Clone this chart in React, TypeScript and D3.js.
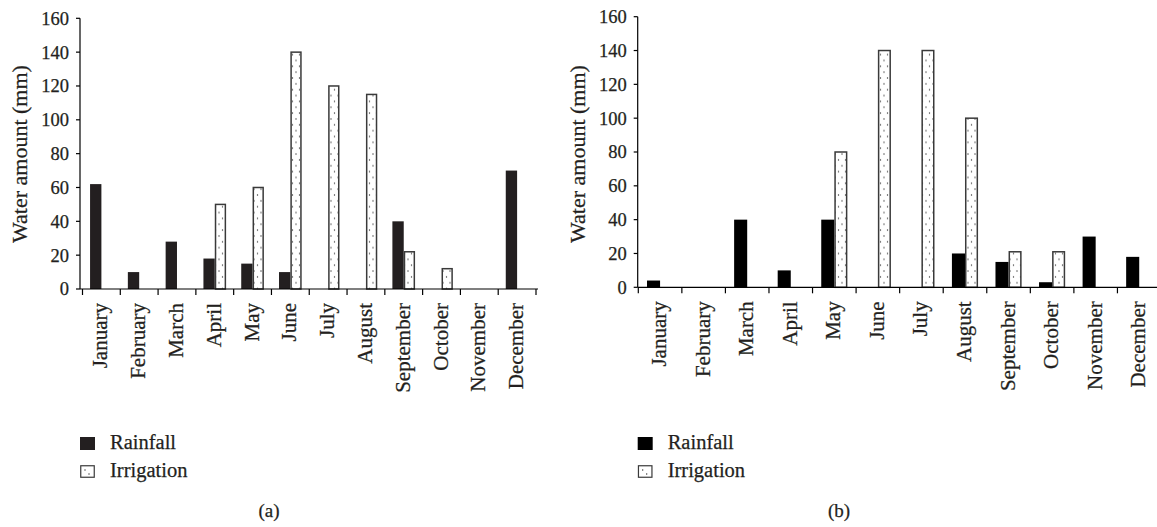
import React from "react";
import * as d3 from "d3";

const months = ["January","February","March","April","May","June","July","August","September","October","November","December"];
const rainfallA = [62, 10, 28, 18, 15, 10, 0, 0, 40, 0, 0, 70];
const irrigationA = [0, 0, 0, 50, 60, 140, 120, 115, 22, 12, 0, 0];
const rainfallB = [4, 0, 40, 10, 40, 0, 0, 20, 15, 3, 30, 18];
const irrigationB = [0, 0, 0, 0, 80, 140, 140, 100, 21, 21, 0, 0];
const yTicks = [0, 20, 40, 60, 80, 100, 120, 140, 160];
const yTitle = "Water amount (mm)";
const legendLabels = ["Rainfall", "Irrigation"];

const FONT = "'Liberation Serif', 'Times New Roman', serif";
const TEXT_COLOR = "#231f20";

type PanelProps = {
  id: string;
  axisX: number;
  x0: number;
  x1: number;
  yTop: number;
  yBottom: number;
  rain: number[];
  irr: number[];
  rainColor: string;
  caption: string;
  captionX: number;
};

const textStyle = { fontFamily: FONT, fill: TEXT_COLOR, stroke: TEXT_COLOR, strokeWidth: 0.25 } as const;

function Panel(p: PanelProps) {
  const x = d3.scaleBand<string>().domain(months).range([p.x0, p.x1]).padding(0);
  const y = d3.scaleLinear().domain([0, 160]).range([p.yBottom, p.yTop]);
  const step = x.step();
  const off = step * 0.2;
  const bw = step * 0.3;
  const boundaries = months.map((m) => x(m)!).concat([p.x1]);
  const titleY = 154;
  return (
    <g>
      <defs>
        <pattern id={`dots-${p.id}`} width={7} height={11.7} patternUnits="userSpaceOnUse">
          <rect width={7} height={11.7} fill="#fff" />
          <circle cx={2} cy={2} r={0.7} fill="#333" />
          <circle cx={5.5} cy={7.8} r={0.7} fill="#333" />
        </pattern>
      </defs>
      {months.map((m, i) =>
        p.rain[i] > 0 ? (
          <rect key={"r" + m} x={x(m)! + off} y={y(p.rain[i])} width={bw} height={y(0) - y(p.rain[i])} fill={p.rainColor} />
        ) : null
      )}
      {months.map((m, i) =>
        p.irr[i] > 0 ? (
          <rect key={"i" + m} x={x(m)! + off + bw + 0.75} y={y(p.irr[i])} width={bw - 1.5} height={y(0) - y(p.irr[i])}
            fill={`url(#dots-${p.id})`} stroke="#3a3a3a" strokeWidth={1.5} />
        ) : null
      )}
      <line x1={p.axisX} x2={p.axisX} y1={p.yTop} y2={p.yBottom} stroke="#000" strokeWidth={1.2} />
      {yTicks.map((t) => (
        <g key={"yt" + t}>
          <line x1={p.axisX - 4} x2={p.axisX} y1={y(t)} y2={y(t)} stroke="#000" strokeWidth={1.2} />
          <text x={p.axisX - 11} y={y(t)} dy="0.35em" textAnchor="end" fontSize={18.5} style={textStyle}>{t}</text>
        </g>
      ))}
      <line x1={p.axisX} x2={p.x1 + 2} y1={p.yBottom} y2={p.yBottom} stroke="#000" strokeWidth={1.2} />
      {boundaries.map((b, i) => (
        <line key={"xt" + i} x1={b} x2={b} y1={p.yBottom} y2={p.yBottom + 6} stroke="#000" strokeWidth={1.2} />
      ))}
      {months.map((m) => {
        const cx = x(m)! + step / 2 + 6;
        const cy = p.yBottom + 14;
        return (
          <text key={"xl" + m} transform={`translate(${cx},${cy}) rotate(-90)`} textAnchor="end" fontSize={21} style={textStyle}>{m}</text>
        );
      })}
      <text transform={`translate(${p.axisX - 53},${titleY}) rotate(-90)`} textAnchor="middle" fontSize={22} style={textStyle}>{yTitle}</text>
      <rect x={p.axisX} y={437} width={15} height={13} fill={p.rainColor} />
      <text x={p.axisX + 30} y={449} fontSize={20.5} style={textStyle}>{legendLabels[0]}</text>
      <rect x={p.axisX + 0.75} y={465.75} width={13.5} height={11.5} fill="#fff" stroke="#3a3a3a" strokeWidth={1.2} />
      <circle cx={p.axisX + 5} cy={470} r={0.7} fill="#333" />
      <circle cx={p.axisX + 9} cy={474} r={0.7} fill="#333" />
      <text x={p.axisX + 30} y={477} fontSize={20.5} style={textStyle}>{legendLabels[1]}</text>
      <text x={p.captionX} y={517} textAnchor="middle" fontSize={19} style={textStyle}>{p.caption}</text>
    </g>
  );
}

export default function App() {
  return (
    <svg width={1157} height={527} style={{ position: "absolute", left: 0, top: 0, background: "#fff" }}>
      <rect width={1157} height={527} fill="#fff" />
      <Panel id="a" axisX={80} x0={82.5} x1={536} yTop={18.3} yBottom={289} rain={rainfallA} irr={irrigationA}
        rainColor="#231f20" caption="(a)" captionX={269} />
      <Panel id="b" axisX={637.7} x0={638.3} x1={1161} yTop={16.7} yBottom={287.3} rain={rainfallB} irr={irrigationB}
        rainColor="#000" caption="(b)" captionX={839} />
    </svg>
  );
}
